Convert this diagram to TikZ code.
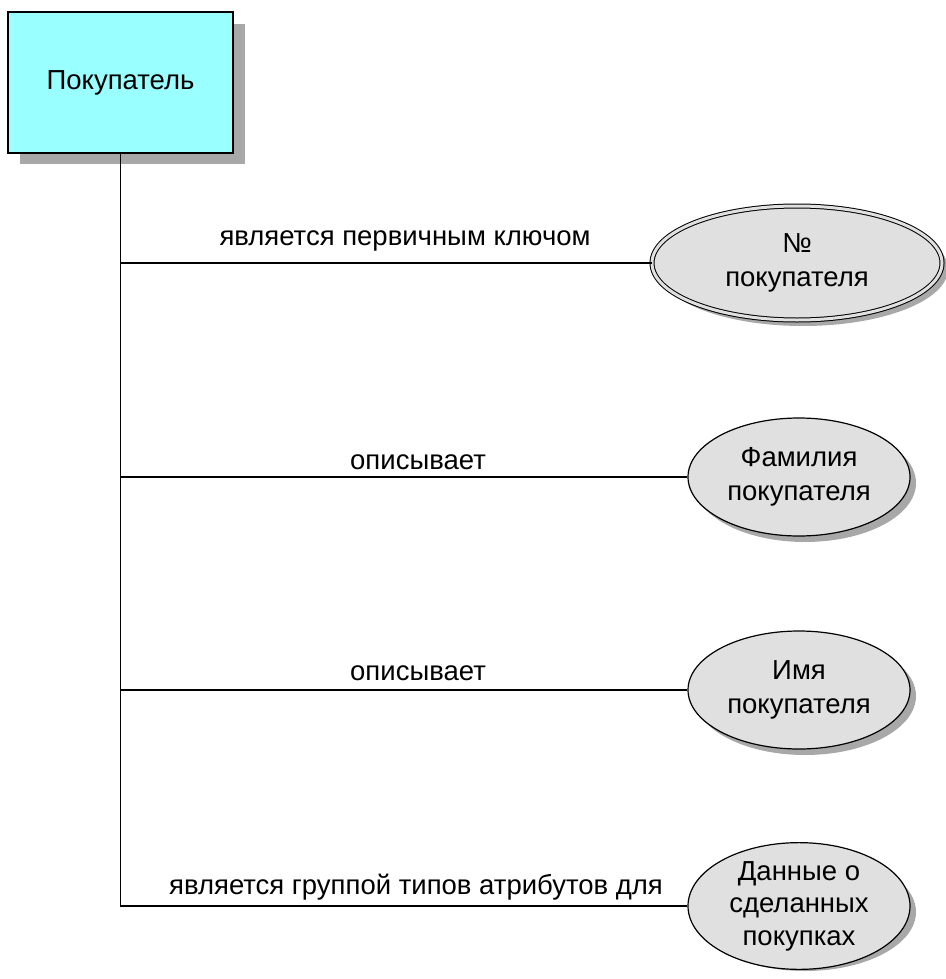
\documentclass[tikz,border=0pt]{standalone}
\usepackage{fontspec}
\setmainfont{Liberation Sans}
\usetikzlibrary{shapes.geometric}
\definecolor{entcyan}{HTML}{99FFFF}
\definecolor{attrgray}{HTML}{E0E0E0}
\definecolor{shadowgray}{HTML}{A8A8A8}
\begin{document}
\begin{tikzpicture}[x=1pt,y=-1pt,
  font=\fontsize{27.5}{34}\selectfont,
  entity/.style={draw=black, line width=1.5pt, fill=entcyan, minimum width=225pt, minimum height=141pt, inner sep=0pt},
  attr/.style={ellipse, draw=black, line width=1.2pt, fill=attrgray, minimum width=222pt, minimum height=118pt, inner sep=0pt, align=center},
  keyattr/.style={attr, double=attrgray, double distance=3pt, line width=1pt, minimum width=290pt, minimum height=114pt},
  eshadow/.style={ellipse, fill=shadowgray, inner sep=0pt},
  link/.style={draw=black, line width=1.3pt},
  lbl/.style={inner sep=0pt}
]
\useasboundingbox (0,0) rectangle (945,979);
% shadows
\fill[shadowgray] (20,24) rectangle (245,164);
\node[eshadow, minimum width=290pt, minimum height=114pt] (s1) at (803,269) {};
\node[eshadow, minimum width=222pt, minimum height=118pt] (s2) at (805,483) {};
\node[eshadow, minimum width=222pt, minimum height=118pt] (s3) at (805,696) {};
\node[eshadow, minimum width=222pt, minimum height=118pt] (s4) at (805,912) {};
% entity
\node[entity] (cust) at (120.5,82.5) {Покупатель};
% attributes
\node[keyattr] (a1) at (797,263) {№\\покупателя};
\node[attr] (a2) at (799,477) {Фамилия\\покупателя};
\node[attr] (a3) at (799,690) {Имя\\покупателя};
\node[attr, font=\fontsize{27.5}{32.5}\selectfont] (a4) at (799,906) {Данные о\\сделанных\\покупках};
% connectors
\coordinate (j1) at (cust.south |- a1.west);
\coordinate (j2) at (cust.south |- a2.west);
\coordinate (j3) at (cust.south |- a3.west);
\draw[link] (cust.south) |- (a4.west);
\draw[link] (j1) -- (a1.west);
\draw[link] (j2) -- (a2.west);
\draw[link] (j3) -- (a3.west);
% labels
\node[lbl] (l1) at (405,241) {является первичным ключом};
\node[lbl] (l2) at (418,462) {описывает};
\node[lbl] (l3) at (418,673) {описывает};
\node[lbl] (l4) at (416,887) {является группой типов атрибутов для};
\end{tikzpicture}
\end{document}
